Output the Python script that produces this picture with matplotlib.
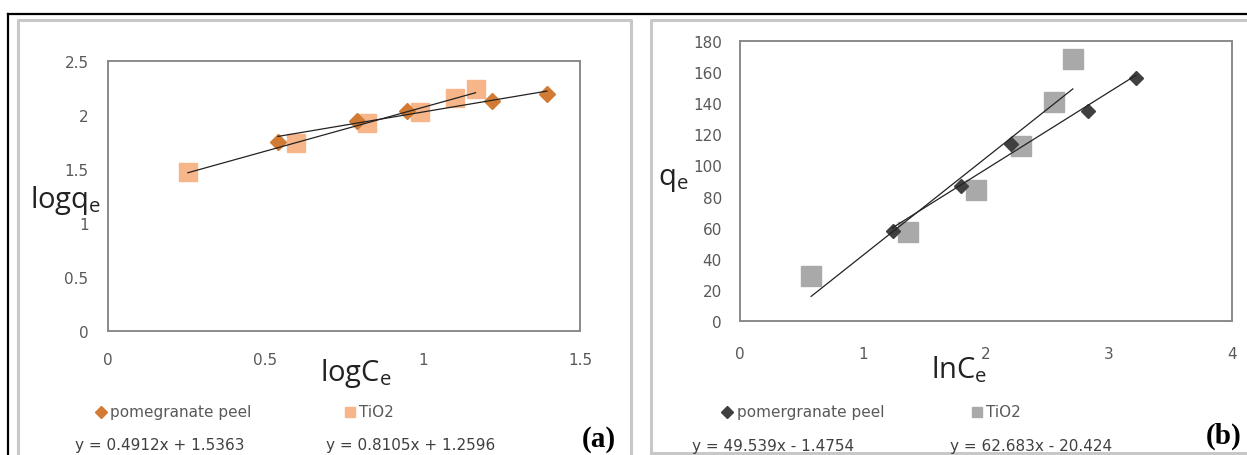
import numpy as np
import matplotlib.pyplot as plt

# panel (a): Freundlich  log qe vs log Ce
a_peel_x = [0.54, 0.79, 0.95, 1.22, 1.395]
a_peel_y = [1.75, 1.94, 2.04, 2.13, 2.19]
a_tio2_x = [0.254, 0.597, 0.824, 0.993, 1.103, 1.168]
a_tio2_y = [1.475, 1.74, 1.926, 2.025, 2.16, 2.24]
a_fit_peel = (0.4912, 1.5363)
a_fit_tio2 = (0.8105, 1.2596)

# panel (b): Temkin  qe vs ln Ce
b_peel_x = [1.24, 1.80, 2.20, 2.83, 3.22]
b_peel_y = [58.0, 87.0, 113.7, 135.1, 155.9]
b_tio2_x = [0.578, 1.365, 1.919, 2.287, 2.549, 2.706]
b_tio2_y = [29.1, 57.0, 84.3, 112.6, 140.9, 168.3]
b_fit_peel = (49.539, -1.4754)
b_fit_tio2 = (62.683, -20.424)

a_xticks = [0, 0.5, 1, 1.5]
a_yticks = [0, 0.5, 1, 1.5, 2, 2.5]
b_xticks = [0, 1, 2, 3, 4]
b_yticks = list(range(0, 181, 20))

W, H = 1247, 456
plt.rcParams['font.family'] = ['Open Sans', 'DejaVu Sans']
plt.rcParams['mathtext.fontset'] = 'custom'
plt.rcParams['mathtext.rm'] = 'Open Sans'
plt.rcParams['mathtext.it'] = 'Open Sans'
small = 'DejaVu Sans'

fig = plt.figure(figsize=(W / 100, H / 100), dpi=100)
fig.patch.set_facecolor('white')


def px_axes(left, top, right, bottom):
    # axes placed by pixel box
    return fig.add_axes([left / W, 1 - bottom / H, (right - left) / W, (bottom - top) / H])


# background frames
bg = px_axes(0, 0, W, H)
bg.set_xlim(0, W)
bg.set_ylim(H, 0)
bg.axis('off')
bg.plot([8, W], [15, 15], color='black', lw=1.6)
bg.plot([8, 8], [15, H], color='black', lw=1.6)
bg.plot([18, 18, 631, 631], [H, 21, 21, H], color='#c8c8c8', lw=2.2)
bg.plot([651, 651, W], [H, 21, 21], color='#c8c8c8', lw=2.2)
bg.plot([651, W], [454, 454], color='#c8c8c8', lw=2.2)

tick_color = '#595959'


def style(ax, xticks, yticks, xpad, ypad):
    ax.set_xticks(xticks)
    ax.set_yticks(yticks)
    ax.set_xticklabels([('%g' % v) for v in xticks], family=small)
    ax.set_yticklabels([('%g' % v) for v in yticks], family=small)
    ax.tick_params(length=0, labelsize=11, labelcolor=tick_color)
    ax.tick_params(axis='x', pad=xpad)
    ax.tick_params(axis='y', pad=ypad)
    for s in ax.spines.values():
        s.set_color('#8a8a8a')
        s.set_linewidth(1.4)
    ax.set_facecolor('white')


# ---- panel (a)
ax1 = px_axes(108, 62, 580, 332)
ax1.set_xlim(0, 1.5)
ax1.set_ylim(0, 2.5)
style(ax1, a_xticks, a_yticks, 15, 14)
peel_a = '#d27b34'
tio2_a = '#f6b68a'
ax1.plot(a_tio2_x, a_tio2_y, 's', color=tio2_a, ms=13, zorder=2)
ax1.plot(a_peel_x, a_peel_y, 'D', color=peel_a, ms=8, zorder=3)
xs = np.array([min(a_peel_x), max(a_peel_x)])
ax1.plot(xs, a_fit_peel[0] * xs + a_fit_peel[1], color='#222222', lw=0.9, zorder=4)
xs = np.array([min(a_tio2_x), max(a_tio2_x)])
ax1.plot(xs, a_fit_tio2[0] * xs + a_fit_tio2[1], color='#222222', lw=0.9, zorder=4)

fig.text(66 / W, 1 - 201 / H, r'logq$_\mathrm{e}$', fontsize=21, ha='center', va='center', color='#222222')
fig.text(356 / W, 1 - 373 / H, r'logC$_\mathrm{e}$', fontsize=21, ha='center', va='center', color='#222222')

# legend + equations (a)
bg.plot([101], [413], 'D', color=peel_a, ms=6)
bg.text(110, 413, 'pomegranate peel', fontsize=11, family=small, color=tick_color, va='center')
bg.plot([350], [413], 's', color=tio2_a, ms=7)
bg.text(359, 413, 'TiO2', fontsize=11, family=small, color=tick_color, va='center')
bg.text(75, 446, 'y = %.4fx + %.4f' % a_fit_peel, fontsize=11, family=small, color='#404040', va='center')
bg.text(326, 446, 'y = %.4fx + %.4f' % a_fit_tio2, fontsize=11, family=small, color='#404040', va='center')
bg.text(599, 440, '(a)', fontsize=21, fontweight='bold', family='Liberation Serif',
        ha='center', va='center', color='black')

# ---- panel (b)
ax2 = px_axes(740, 42, 1232, 322)
ax2.set_xlim(0, 4)
ax2.set_ylim(0, 180)
style(ax2, b_xticks, b_yticks, 18, 13)
peel_b = '#404040'
tio2_b = '#a9a9a9'
ax2.plot(b_tio2_x, b_tio2_y, 's', color=tio2_b, ms=14, zorder=2)
ax2.plot(b_peel_x, b_peel_y, 'D', color=peel_b, ms=7.5, zorder=3)
xs = np.array([min(b_peel_x), max(b_peel_x)])
ax2.plot(xs, b_fit_peel[0] * xs + b_fit_peel[1], color='#222222', lw=0.9, zorder=4)
xs = np.array([min(b_tio2_x), max(b_tio2_x)])
ax2.plot(xs, b_fit_tio2[0] * xs + b_fit_tio2[1], color='#222222', lw=0.9, zorder=4)

fig.text(673 / W, 1 - 180 / H, r'q$_\mathrm{e}$', fontsize=21, ha='center', va='center', color='#222222')
fig.text(959 / W, 1 - 370 / H, r'lnC$_\mathrm{e}$', fontsize=21, ha='center', va='center', color='#222222')

bg.plot([727], [413], 'D', color=peel_b, ms=6)
bg.text(737, 413, 'pomergranate peel', fontsize=11, family=small, color=tick_color, va='center')
bg.plot([977], [413], 's', color=tio2_b, ms=7)
bg.text(986, 413, 'TiO2', fontsize=11, family=small, color=tick_color, va='center')
bg.text(692, 447, 'y = %.3fx - %.4f' % (b_fit_peel[0], -b_fit_peel[1]), fontsize=11, family=small,
        color='#404040', va='center')
bg.text(950, 447, 'y = %.3fx - %.3f' % (b_fit_tio2[0], -b_fit_tio2[1]), fontsize=11, family=small,
        color='#404040', va='center')
bg.text(1224, 436, '(b)', fontsize=21, fontweight='bold', family='Liberation Serif',
        ha='center', va='center', color='black')

fig.savefig('out.png', dpi=100)
